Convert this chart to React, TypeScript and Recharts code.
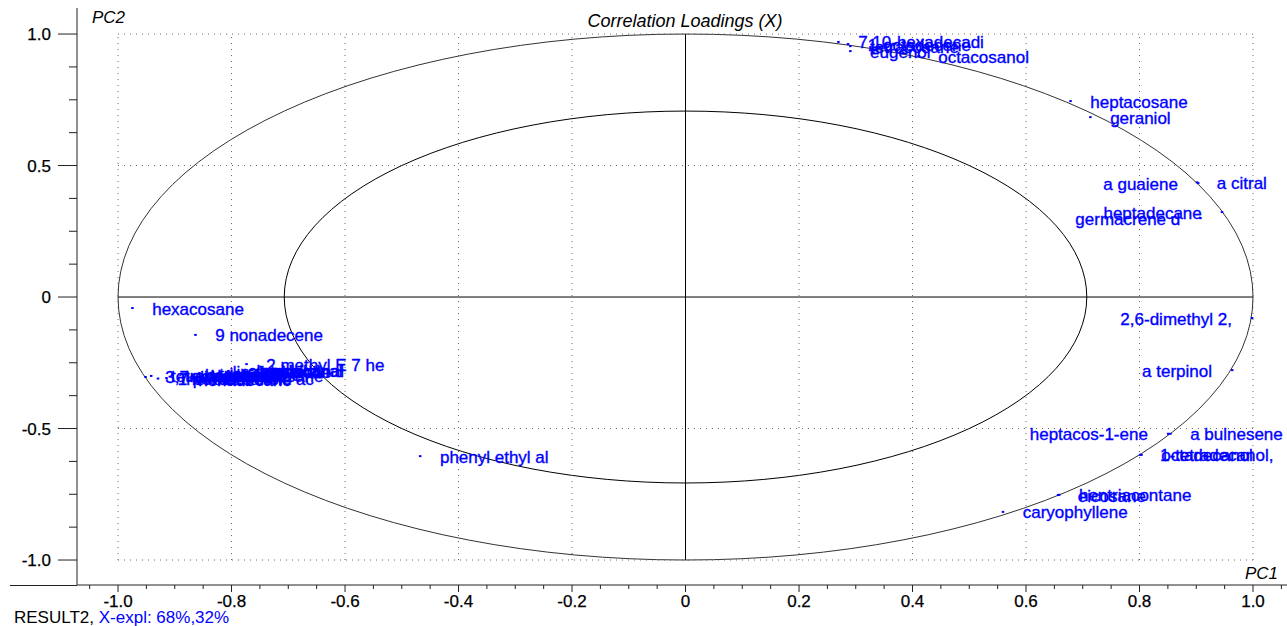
import React from "react";
import { ReferenceArea, ReferenceLine, Scatter, ScatterChart, XAxis, YAxis } from "recharts";

const FONT = '"Liberation Sans", Arial, sans-serif';
const BLUE = "#0000ff";
const AXIS = "#222";

// Loadings: compound name, PC1, PC2
const compoundNames = [
  "hexacosane", "9 nonadecene", "2 methyl E 7 he",
  "3,7-dimethyl-1,", "tetradecane", "1-pentadecene", "hexadecanoic ac", "octadecane", "nonadecane",
  "heneicosane", "docosane", "tricosane", "pentacosane", "linalool oxide", "nerol",
  "citronellol", "farnesol", "undecanal", "tridecanal",
  "phenyl ethyl al",
  "7,10-hexadecadi", "1-octadecene", "tetracosane", "eugenol", "octacosanol",
  "heptacosane", "geraniol", "a guaiene", "a citral", "heptadecane", "germacrene d",
  "2,6-dimethyl 2,", "a terpinol", "heptacos-1-ene", "a bulnesene",
  "1-tetradecanol,", "octadecanol", "eicosane", "hentriacontane", "caryophyllene",
];
const pc1Values = [
  -0.975, -0.864, -0.774,
  -0.952, -0.942, -0.930, -0.915, -0.905, -0.894,
  -0.882, -0.870, -0.857, -0.845, -0.833, -0.820,
  -0.806, -0.792, -0.778, -0.767,
  -0.468,
  0.269, 0.286, 0.290, 0.290, 0.410,
  0.678, 0.713, 0.903, 0.901, 0.945, 0.907,
  0.998, 0.963, 0.850, 0.854,
  0.801, 0.803, 0.656, 0.658, 0.559,
];
const pc2Values = [
  -0.042, -0.144, -0.255,
  -0.304, -0.300, -0.310, -0.308, -0.297, -0.312,
  -0.293, -0.300, -0.289, -0.297, -0.285, -0.293,
  -0.281, -0.285, -0.281, -0.278,
  -0.605,
  0.970, 0.962, 0.954, 0.935, 0.916,
  0.745, 0.684, 0.433, 0.436, 0.323, 0.300,
  -0.080, -0.278, -0.520, -0.520,
  -0.600, -0.600, -0.753, -0.752, -0.817,
];

const xMajorTicks = [-1.0, -0.8, -0.6, -0.4, -0.2, 0, 0.2, 0.4, 0.6, 0.8, 1.0];
const yMajorTicks = [-1.0, -0.5, 0, 0.5, 1.0];
const gridX = [-1.0, -0.8, -0.6, -0.4, -0.2, 0.2, 0.4, 0.6, 0.8, 1.0];
const gridY = [-1.0, -0.5, 0.5, 1.0];

const X_DOMAIN = [-1.0723, 1.0599];
const Y_DOMAIN = [-1.095, 1.099];
const INNER_R = 0.7071;

const points = compoundNames.map((name, i) => ({ name, x: pc1Values[i], y: pc2Values[i] }));

// minor ticks every 0.05 on x and 0.125 on y
const xAllTicks: number[] = [];
for (let i = -21; i <= 21; i++) xAllTicks.push(Math.round(i * 5) / 100);
const yAllTicks: number[] = [];
for (let i = -8; i <= 8; i++) yAllTicks.push(i * 0.125);

const isIn = (list: number[], v: number) => list.some((t) => Math.abs(t - v) < 1e-6);
const fmt = (v: number) => (Math.abs(v) < 1e-6 ? "0" : v.toFixed(1));

let ctx: CanvasRenderingContext2D | null = null;
function textWidth(s: string) {
  if (!ctx) {
    ctx = document.createElement("canvas").getContext("2d");
    if (ctx) ctx.font = `17px ${FONT}`;
  }
  return ctx ? ctx.measureText(s).width : s.length * 8;
}

const CHART_W = 1287;
const CHART_H = 626;

function XTick(props: any) {
  const { x, y, payload } = props;
  const major = isIn(xMajorTicks, payload.value);
  return (
    <g>
      <line x1={x} x2={x} y1={y} y2={y + (major ? 7 : 4)} stroke={AXIS} />
      {major && (
        <text x={x} y={y + 22} textAnchor="middle" fontSize={17} fontFamily={FONT} fill="#000" stroke="#000" strokeWidth={0.25}>
          {fmt(payload.value)}
        </text>
      )}
    </g>
  );
}

function YTick(props: any) {
  const { x, y, payload } = props;
  const major = isIn(yMajorTicks, payload.value);
  return (
    <g>
      <line x1={x - (major ? 19 : 8)} x2={x} y1={y} y2={y} stroke={AXIS} />
      {major && (
        <text x={x - 26} y={y + 6} textAnchor="end" fontSize={17} fontFamily={FONT} fill="#000" stroke="#000" strokeWidth={0.25}>
          {fmt(payload.value)}
        </text>
      )}
    </g>
  );
}

function LoadingPoint(props: any) {
  const { cx, cy, payload } = props;
  const name: string = payload.name;
  const w = textWidth(name);
  const flip = cx + 20 + w > CHART_W;
  return (
    <g>
      <rect x={cx - 1} y={cy - 1} width={2.5} height={2} fill={BLUE} />
      <text
        x={flip ? cx - 20 : cx + 20}
        y={cy + 6.5}
        textAnchor={flip ? "end" : "start"}
        fontSize={17}
        fontFamily={FONT}
        fill={BLUE}
        stroke={BLUE}
        strokeWidth={0.35}
      >
        {name}
      </text>
    </g>
  );
}

const ellipse = (stroke: string) => (p: any) => (
  <ellipse
    cx={p.x + p.width / 2}
    cy={p.y + p.height / 2}
    rx={p.width / 2}
    ry={p.height / 2}
    fill="none"
    stroke={stroke}
    strokeWidth={1}
  />
);

export default function App() {
  return (
    <div
      style={{
        position: "absolute",
        left: 0,
        top: 0,
        width: CHART_W,
        height: CHART_H,
        background: "#fff",
        fontFamily: FONT,
      }}
    >
      <ScatterChart width={CHART_W} height={CHART_H} margin={{ top: 8, right: 0, bottom: 0, left: 0 }}>
        <XAxis
          type="number"
          dataKey="x"
          domain={X_DOMAIN}
          ticks={xAllTicks}
          interval={0}
          tick={<XTick />}
          tickLine={false}
          tickSize={0}
          tickMargin={0}
          height={41}
          axisLine={{ stroke: AXIS }}
        />
        <YAxis
          type="number"
          dataKey="y"
          domain={Y_DOMAIN}
          ticks={yAllTicks}
          interval={0}
          tick={<YTick />}
          tickLine={false}
          tickSize={0}
          tickMargin={0}
          width={77}
          axisLine={{ stroke: AXIS }}
        />
        {gridX.map((v) => (
          <ReferenceLine
            key={`gx${v}`}
            segment={[{ x: v, y: -1 }, { x: v, y: 1 }]}
            stroke="#666"
            strokeDasharray="1 5"
          />
        ))}
        {gridY.map((v) => (
          <ReferenceLine
            key={`gy${v}`}
            segment={[{ x: -1, y: v }, { x: 1, y: v }]}
            stroke="#666"
            strokeDasharray="1 5"
          />
        ))}
        <ReferenceLine segment={[{ x: 0, y: -1 }, { x: 0, y: 1 }]} stroke="#000" />
        <ReferenceLine segment={[{ x: -1, y: 0 }, { x: 1, y: 0 }]} stroke="#000" />
        <ReferenceArea x1={-1} x2={1} y1={-1} y2={1} shape={ellipse("#333")} />
        <ReferenceArea x1={-INNER_R} x2={INNER_R} y1={-INNER_R} y2={INNER_R} shape={ellipse("#000")} />
        <Scatter data={points} shape={(p: any) => <LoadingPoint {...p} />} isAnimationActive={false} />
      </ScatterChart>

      <div style={{ position: "absolute", left: 10, top: 585, width: 67, height: 1, background: AXIS }} />
      <div
        style={{
          position: "absolute",
          left: 685,
          top: 12,
          transform: "translateX(-50%)",
          fontSize: 18,
          lineHeight: 1,
          fontStyle: "italic",
          whiteSpace: "nowrap",
          color: "#000",
        }}
      >
        Correlation Loadings (X)
      </div>
      <div style={{ position: "absolute", left: 92, top: 9, fontSize: 17, lineHeight: 1, fontStyle: "italic" }}>PC2</div>
      <div style={{ position: "absolute", left: 1245, top: 565, fontSize: 17, lineHeight: 1, fontStyle: "italic" }}>PC1</div>
      <div style={{ position: "absolute", left: 14, top: 609, fontSize: 17, lineHeight: 1, whiteSpace: "nowrap" }}>
        <span style={{ color: "#000" }}>RESULT2, </span>
        <span style={{ color: BLUE }}>X-expl: 68%,32%</span>
      </div>
    </div>
  );
}
